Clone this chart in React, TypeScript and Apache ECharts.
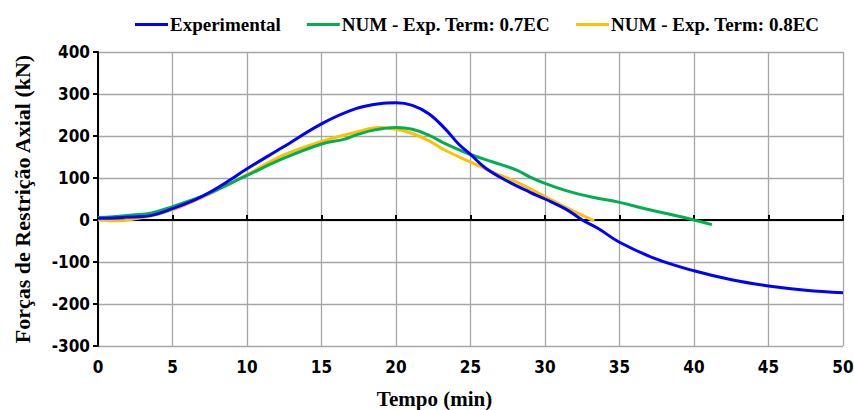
import React, { useEffect, useRef } from "react";
import * as echarts from "echarts";

// Tempo (min) / força (kN) — ensaio experimental
const expTime = [0, 1, 2.3, 3.6, 5, 6.5, 7.5, 8.8, 10, 12.4, 15, 17.3, 18.9, 20, 21.1, 22.2, 23.3, 24.2, 25, 26, 27.4, 29, 30, 31.4, 32.5, 33.6, 35, 37.4, 40, 42.6, 45, 47.5, 50];
const expForce = [4, 5, 7, 11, 27, 48, 66, 94, 122, 173, 229, 265, 277, 279, 273, 253, 217, 181, 156, 124, 94, 66, 50, 26, 0, -21, -53, -92, -121, -143, -157, -167, -173];

// Modelo numérico, termo de expansão 0.7EC
const num07Time = [0, 1, 2.3, 3.6, 5, 6.5, 7.5, 10, 12.4, 15, 16.5, 17.3, 18.5, 20, 21.1, 22.2, 23.3, 25, 26.5, 28.1, 29, 30, 31.4, 33.2, 35, 36.8, 38.6, 40, 41.2];
const num07Force = [6, 8, 12, 17, 32, 50, 64, 106, 146, 181, 192, 202, 214, 220, 216, 202, 182, 156, 138, 119, 102, 87, 70, 54, 42, 26, 12, 0, -11];

// Modelo numérico, termo de expansão 0.8EC
const num08Time = [0, 1.5, 2.3, 3.6, 5, 6.5, 7.5, 10, 12.4, 15, 17.3, 18.9, 20, 21.1, 22.2, 23.3, 25, 26.5, 28.1, 30, 31.4, 33.3];
const num08Force = [0, -2, 2, 10, 24, 46, 62, 108, 154, 187, 209, 220, 216, 206, 189, 166, 138, 114, 90, 56, 30, -2];

const seriesNames = ["Experimental", "NUM - Exp. Term: 0.7EC", "NUM - Exp. Term: 0.8EC"];
const seriesColors = ["#0000ff", "#00b050", "#ffc000"];

const pairs = (t: number[], v: number[]) => t.map((x, i) => [x, v[i]]);

const serifBold = "'Liberation Serif', 'Times New Roman', serif";
const narrowBold = "'Liberation Sans Narrow', 'Arial Narrow', 'DejaVu Sans Condensed', 'Liberation Sans', sans-serif";

export default function App() {
  const ref = useRef<HTMLDivElement>(null);

  useEffect(() => {
    if (!ref.current) return;
    const chart = echarts.init(ref.current, null, { renderer: "svg" });
    const gridLine = { show: true, lineStyle: { color: "#a6a6a6", width: 1.3 } };
    const tickLabel = { color: "#000", fontFamily: narrowBold, fontWeight: "bold" as const, fontSize: 17 };

    chart.setOption({
      animation: false,
      backgroundColor: "#ffffff",
      legend: {
        top: 10,
        left: 130,
        itemWidth: 33,
        itemHeight: 3,
        itemGap: 26,
        icon: "rect",
        textStyle: { color: "#000", fontFamily: serifBold, fontWeight: "bold", fontSize: 19, padding: [0, 0, 0, -3] },
        data: seriesNames,
      },
      grid: { left: 98, right: 11, top: 52, bottom: 64, containLabel: false, outerBoundsMode: "none" },
      xAxis: [
        {
          type: "value",
          min: 0,
          max: 50,
          interval: 5,
          position: "bottom",
          axisLine: { show: false, onZero: false },
          axisTick: { show: false },
          axisLabel: { ...tickLabel, margin: 12 },
          splitLine: gridLine,
          name: "Tempo (min)",
          nameLocation: "middle",
          nameGap: 42,
          nameTextStyle: { color: "#000", fontFamily: serifBold, fontWeight: "bold", fontSize: 21, padding: [0, 72, 0, 0] },
        },
        {
          type: "value",
          min: 0,
          max: 50,
          interval: 5,
          position: "bottom",
          axisLine: { show: true, onZero: true, lineStyle: { color: "#000", width: 2 } },
          axisTick: { show: true, inside: true, length: 5, lineStyle: { color: "#000", width: 2 } },
          axisLabel: { show: false },
          splitLine: { show: false },
        },
      ],
      yAxis: {
        type: "value",
        min: -300,
        max: 400,
        interval: 100,
        axisLine: { show: true, lineStyle: { color: "#000", width: 2 } },
        axisTick: { show: true, length: 5, lineStyle: { color: "#000", width: 2 } },
        axisLabel: { ...tickLabel, margin: 8 },
        splitLine: gridLine,
        name: "Forças de Restrição Axial (kN)",
        nameLocation: "middle",
        nameGap: 65,
        nameTextStyle: { color: "#000", fontFamily: serifBold, fontWeight: "bold", fontSize: 22 },
      },
      series: [
        { data: pairs(expTime, expForce) },
        { data: pairs(num07Time, num07Force) },
        { data: pairs(num08Time, num08Force) },
      ].map((s, i) => ({
        name: seriesNames[i],
        type: "line",
        xAxisIndex: 0,
        data: s.data,
        smooth: 0.4,
        showSymbol: false,
        symbol: "none",
        color: seriesColors[i],
        lineStyle: { color: seriesColors[i], width: 3 },
        z: 3 - i,
      })),
    });

    return () => chart.dispose();
  }, []);

  return (
    <div
      ref={ref}
      style={{ position: "fixed", left: 0, top: 0, width: 854, height: 410, background: "#fff" }}
    />
  );
}
